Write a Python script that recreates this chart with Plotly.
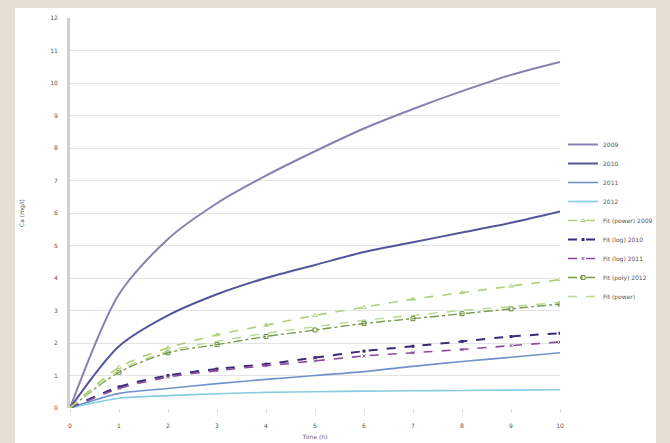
import plotly.graph_objects as go

# Sampling times (h) and measured/fitted series
x_vals = [0, 1, 2, 3, 4, 5, 6, 7, 8, 9, 10]

s2009 = [0, 3.5, 5.2, 6.3, 7.15, 7.9, 8.6, 9.2, 9.75, 10.25, 10.65]
s2010 = [0, 1.9, 2.85, 3.5, 4.0, 4.4, 4.8, 5.1, 5.4, 5.7, 6.05]
s2011 = [0, 0.45, 0.6, 0.75, 0.88, 1.0, 1.12, 1.28, 1.43, 1.56, 1.7]
s2012 = [0, 0.3, 0.38, 0.44, 0.48, 0.5, 0.52, 0.53, 0.54, 0.55, 0.56]

fit_power = [0, 1.25, 1.85, 2.25, 2.55, 2.85, 3.1, 3.35, 3.55, 3.75, 3.95]
fit_log_a = [0, 0.65, 1.0, 1.2, 1.35, 1.55, 1.75, 1.9, 2.05, 2.2, 2.3]
fit_log_b = [0, 0.6, 0.95, 1.15, 1.3, 1.45, 1.6, 1.7, 1.8, 1.92, 2.03]
fit_poly = [0, 1.1, 1.7, 1.95, 2.2, 2.4, 2.6, 2.75, 2.9, 3.05, 3.2]
fit_exp = [0, 1.15, 1.75, 2.05, 2.3, 2.5, 2.7, 2.85, 3.0, 3.12, 3.25]

series_names = ["2009", "2010", "2011", "2012",
                "Fit (power) 2009", "Fit (log) 2010", "Fit (log) 2011",
                "Fit (poly) 2012", "Fit (power)"]

y_ticks = list(range(0, 13))
x_ticks = list(range(0, 11))

fig = go.Figure()

styles = [
    (s2009, dict(color="#8a7fb0", width=2, dash="solid"), None),
    (s2010, dict(color="#52559a", width=2, dash="solid"), None),
    (s2011, dict(color="#6f93c8", width=1.6, dash="solid"), None),
    (s2012, dict(color="#86cde0", width=1.6, dash="solid"), None),
    (fit_power, dict(color="#aecf78", width=1.6, dash="dash"), dict(symbol="triangle-up-open", size=4, color="#aecf78")),
    (fit_log_a, dict(color="#3c2a78", width=2, dash="dash"), dict(symbol="square", size=3, color="#3c2a78")),
    (fit_log_b, dict(color="#8a4a9c", width=1.6, dash="dash"), dict(symbol="x-thin-open", size=3, color="#8a4a9c")),
    (fit_poly, dict(color="#7a9a4a", width=1.4, dash="dashdot"), dict(symbol="square-open", size=4, color="#6a8a3a")),
    (fit_exp, dict(color="#b8d890", width=1.4, dash="dash"), None),
]

for name, (ys, line, marker) in zip(series_names, styles):
    fig.add_trace(go.Scatter(
        x=x_vals, y=ys, name=name,
        mode="lines+markers" if marker else "lines",
        line=dict(shape="spline", smoothing=0.8, **line),
        marker=marker,
    ))

# Plot area geometry (pixels) used to place the white card behind the chart
L, R, T, B = 70, 110, 18, 35
W, H = 670, 443
pw, ph = W - L - R, H - T - B


def px_to_paper_x(px):
    return (px - L) / pw


def py_to_paper_y(py):
    return (H - B - py) / ph


fig.add_shape(type="rect", xref="paper", yref="paper", layer="below",
              x0=px_to_paper_x(15), x1=px_to_paper_x(656),
              y0=py_to_paper_y(445), y1=py_to_paper_y(8),
              fillcolor="white", line=dict(width=0))

fig.update_layout(
    width=W, height=H,
    margin=dict(l=L, r=R, t=T, b=B, autoexpand=False),
    paper_bgcolor="#e7dfd3",
    plot_bgcolor="rgba(0,0,0,0)",
    font=dict(family="DejaVu Sans", size=6, color="#555555"),
    showlegend=True,
    legend=dict(x=px_to_paper_x(563), y=py_to_paper_y(130), xanchor="left", yanchor="top",
                bgcolor="rgba(0,0,0,0)", font=dict(size=6, color="#555555"),
                tracegroupgap=0, itemwidth=30),
    xaxis=dict(range=[0, 10], tickvals=x_ticks, ticktext=[str(v) for v in x_ticks],
               showgrid=False, zeroline=False, showline=False, automargin=False,
               ticks="outside", ticklen=4, tickcolor="#dddddd", ticklabelstandoff=8,
               title=dict(text="Time (h)", font=dict(size=6, color="#666666"), standoff=6)),
    yaxis=dict(range=[0, 12], tickvals=y_ticks, ticktext=[str(v) for v in y_ticks],
               showgrid=True, gridcolor="#e4e4e4", gridwidth=1, zeroline=False,
               showline=True, linecolor="#cfcfcf", linewidth=3, ticklabelstandoff=8,
               automargin=False,
               title=dict(text="Ca (mg/l)", font=dict(size=6, color="#555555"), standoff=26)),
)

fig.write_html("out.html")
